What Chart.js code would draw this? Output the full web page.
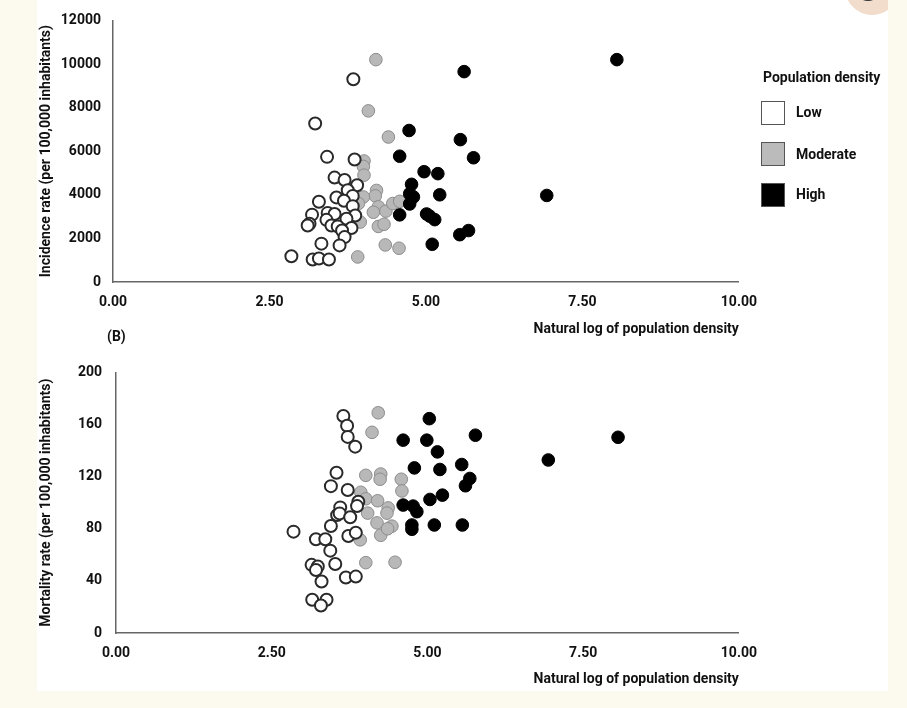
<!DOCTYPE html>
<html>
<head>
<meta charset="utf-8">
<script src="https://cdn.jsdelivr.net/npm/chart.js@4.4.1/dist/chart.umd.min.js"></script>
<style>
  body { margin: 0; width: 907px; height: 708px; background: #fcf9ef; position: relative; overflow: hidden;
         font-family: Roboto, 'DejaVu Sans', sans-serif; color: #111; }
  #panel { position: absolute; left: 37px; top: 0; width: 851px; height: 691px; background: #fff; overflow: hidden; }
  .avatar { position: absolute; left: 808px; top: -39px; width: 54px; height: 54px; border-radius: 50%; background: #f2dccb; }
  .avatar i { position: absolute; left: 10px; top: 14px; width: 26px; height: 26px; border-radius: 50%; background: #333; }
  canvas { position: absolute; }
  .lbl { position: absolute; font-weight: bold; white-space: nowrap; line-height: 16px; }
  .box { position: absolute; left: 761px; width: 24px; height: 24px; box-sizing: border-box; border: 1.5px solid #555; }
</style>
</head>
<body>
<div id="panel"><div class="avatar"><i></i></div></div>
<canvas id="incidenceChart" style="left:37px;top:0px" width="732" height="342"></canvas>
<canvas id="mortalityChart" style="left:37px;top:350px" width="732" height="342"></canvas>

<div class="lbl" style="left:107px;top:328px;font-size:14px">(B)</div>

<!-- legend -->
<div class="lbl" style="left:763px;top:69px;font-size:14px">Population density</div>
<div class="box" style="top:101px;background:#fff"></div>
<div class="lbl" style="left:796px;top:104px;font-size:14px">Low</div>
<div class="box" style="top:142px;background:#bbbbbb"></div>
<div class="lbl" style="left:796px;top:146px;font-size:14px">Moderate</div>
<div class="box" style="top:183px;background:#000"></div>
<div class="lbl" style="left:796px;top:186px;font-size:14px">High</div>

<script>
// (A) incidence rate vs ln(population density), [x, y]
const incidenceLow = [
  [3.84, 9300], [3.23, 7270], [3.42, 5740], [3.86, 5620], [3.54, 4790], [3.70, 4680],
  [3.90, 4440], [3.75, 4210], [3.83, 3950], [3.57, 3880], [3.69, 3730], [3.29, 3680],
  [3.83, 3480], [3.43, 3170], [3.18, 3090], [3.54, 3120], [3.87, 3050], [3.73, 2900],
  [3.41, 2850], [3.14, 2670], [3.11, 2590], [3.49, 2590], [3.59, 2550], [3.81, 2480],
  [3.66, 2360], [3.70, 2060], [3.33, 1760], [3.62, 1680], [2.85, 1180], [3.19, 1030],
  [3.29, 1080], [3.45, 1030]
];
const incidenceModerate = [
  [4.20, 10200], [4.08, 7850], [4.40, 6650], [4.01, 5550], [4.00, 5300], [4.01, 4900],
  [4.21, 4200], [4.19, 3950], [4.00, 3900], [3.92, 3600], [4.24, 3450], [4.16, 3200],
  [4.36, 3250], [4.47, 3600], [4.58, 3700], [3.95, 2750], [4.24, 2550], [4.33, 2650],
  [4.35, 1700], [4.57, 1550], [3.91, 1150]
];
const incidenceHigh = [
  [8.05, 10200], [5.61, 9650], [5.55, 6530], [5.76, 5700], [6.93, 3970], [5.54, 2170],
  [5.68, 2360], [4.73, 6950], [4.58, 5770], [4.97, 5060], [5.19, 4970], [4.77, 4480],
  [4.74, 4050], [4.80, 3900], [5.22, 4000], [4.74, 3580], [4.58, 3080], [5.01, 3120],
  [5.06, 3020], [5.14, 2860], [5.10, 1730]
];

// (B) mortality rate vs ln(population density), [x, y]
const mortalityLow = [
  [3.65, 166.5], [3.71, 159], [3.72, 150.5], [3.84, 143], [3.54, 123], [3.45, 112.7],
  [3.72, 109.7], [3.89, 100.7], [3.87, 97.4], [3.60, 96.4], [3.55, 90.5], [3.59, 91.8],
  [3.76, 88.8], [3.45, 82.1], [2.85, 77.8], [3.21, 71.9], [3.36, 71.9], [3.73, 74.5],
  [3.85, 77.0], [3.44, 63.2], [3.14, 52.3], [3.24, 51.0], [3.21, 48.4], [3.52, 53.0],
  [3.30, 39.5], [3.69, 42.6], [3.85, 43.3], [3.15, 25.5], [3.38, 25.5], [3.29, 21.1]
];
const mortalityModerate = [
  [4.21, 169], [4.11, 154], [4.01, 121], [4.25, 122], [4.24, 118], [3.93, 108],
  [4.01, 103], [4.20, 101.5], [4.04, 92], [4.19, 84.5], [4.25, 75], [3.92, 71.5],
  [4.01, 54], [4.58, 118], [4.59, 109], [4.37, 96], [4.35, 92], [4.43, 82],
  [4.36, 80], [4.48, 54.3]
];
const mortalityHigh = [
  [5.03, 164.5], [4.61, 148], [4.99, 148], [5.16, 139], [4.79, 126.7], [5.20, 125.5],
  [5.55, 129.3], [5.68, 118.6], [5.61, 113], [5.04, 102.5], [5.24, 105.8], [4.61, 98.2],
  [4.77, 97.4], [4.83, 93.1], [4.75, 82.9], [4.75, 79.6], [5.11, 82.9], [5.56, 82.9],
  [5.77, 151.8], [6.94, 132.8], [8.06, 150.2]
];

const xTitle = 'Natural log of population density';
const seriesNames = ['Low', 'Moderate', 'High'];

const tickFont = { family: 'Roboto, sans-serif', size: 14, weight: 'bold' };
const toPoints = arr => arr.map(p => ({ x: p[0], y: p[1] }));

function makeDatasets(low, moderate, high) {
  return [
    { label: seriesNames[0], data: toPoints(low), order: 1,
      backgroundColor: '#ffffff', borderColor: '#2a2a2a', borderWidth: 2, pointRadius: 6 },
    { label: seriesNames[1], data: toPoints(moderate), order: 2,
      backgroundColor: '#b8b8b8', borderColor: '#8c8c8c', borderWidth: 1, pointRadius: 6.3 },
    { label: seriesNames[2], data: toPoints(high), order: 0,
      backgroundColor: '#000000', borderColor: '#000000', borderWidth: 1, pointRadius: 6.3 }
  ];
}

function makeChart(id, datasets, yMax, yStep, yTitle, yWidth, xHeight, padTop, yPad) {
  return new Chart(document.getElementById(id).getContext('2d'), {
    type: 'scatter',
    data: { datasets: datasets },
    options: {
      responsive: false,
      animation: false,
      devicePixelRatio: 1,
      layout: { padding: { top: padTop, right: 21, left: 0, bottom: 0 } },
      plugins: { legend: { display: false }, tooltip: { enabled: false } },
      scales: {
        x: {
          min: 0, max: 10,
          grid: { display: false, drawTicks: false },
          border: { display: true, color: '#666666', width: 1.5 },
          ticks: { stepSize: 2.5, padding: 12, color: '#111111', font: tickFont,
                   callback: v => Number(v).toFixed(2) },
          title: { display: true, text: xTitle, align: 'end', color: '#111111',
                   font: tickFont, padding: { top: 0, bottom: 4 } },
          afterFit: s => { s.height = xHeight; }
        },
        y: {
          min: 0, max: yMax,
          grid: { display: false, drawTicks: false },
          border: { display: true, color: '#666666', width: 1.5 },
          ticks: { stepSize: yStep, padding: yPad, color: '#111111', font: tickFont,
                   callback: v => String(v) },
          title: { display: true, text: yTitle, color: '#111111',
                   font: tickFont, padding: { top: 1, bottom: 0 } },
          afterFit: s => { s.width = yWidth; }
        }
      }
    }
  });
}

const incidenceChart = makeChart('incidenceChart',
  makeDatasets(incidenceLow, incidenceModerate, incidenceHigh),
  12000, 2000, 'Incidence rate (per 100,000 inhabitants)', 76, 60, 18, 12);

const mortalityChart = makeChart('mortalityChart',
  makeDatasets(mortalityLow, mortalityModerate, mortalityHigh),
  200, 40, 'Mortality rate (per 100,000 inhabitants)', 79, 59, 22, 14);
</script>
</body>
</html>
